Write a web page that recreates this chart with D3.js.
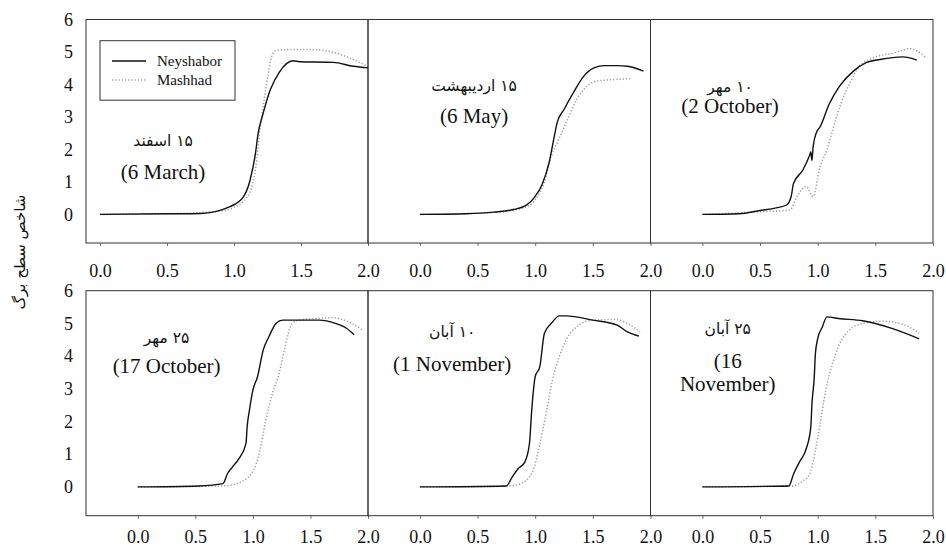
<!DOCTYPE html>
<html>
<head>
<meta charset="utf-8">
<script src="https://cdn.jsdelivr.net/npm/d3@7"></script>
<style>
  body { margin: 0; background: #fff; }
  text { font-family: "Liberation Serif", "Times New Roman", serif; fill: #111; }
  .fa { font-family: "DejaVu Sans", sans-serif; }
</style>
</head>
<body>
<div class="chart-1"></div>
<script>
// panel labels (Persian date + Gregorian date)
const faDates = ["۱۵ اسفند", "۱۵ اردیبهشت", "۱۰ مهر", "۲۵ مهر", "۱۰ آبان", "۲۵ آبان"];
const enDates = [["(6 March)"], ["(6 May)"], ["(2 October)"], ["(17 October)"], ["(1 November)"], ["(16", "November)"]];
const seriesNames = ["Neyshabor", "Mashhad"];
const xTicks = [0, 0.5, 1, 1.5, 2];
const yTicks = [0, 1, 2, 3, 4, 5, 6];
const yLabel = "شاخص سطح برگ";

// [x, leaf area index]
const neyMarch = [[0,0],[0.5,0.02],[0.75,0.03],[0.97,0.24],[1.07,0.54],[1.12,1.06],[1.16,1.88],[1.18,2.5],[1.21,3.0],[1.27,3.83],[1.34,4.39],[1.44,4.73],[1.49,4.7],[1.74,4.68],[1.89,4.56],[2.0,4.51]];
const mashMarch = [[0,0],[0.5,0.02],[0.9,0.1],[1.0,0.22],[1.09,0.5],[1.13,0.8],[1.17,1.7],[1.19,2.5],[1.22,3.4],[1.25,4.2],[1.28,4.85],[1.31,5.04],[1.45,5.08],[1.6,5.07],[1.75,4.98],[1.9,4.75],[2.0,4.55]];
const neyMay = [[0,0],[0.4,0.02],[0.64,0.07],[0.81,0.15],[0.93,0.3],[0.99,0.51],[1.06,0.92],[1.12,1.59],[1.16,2.3],[1.19,2.82],[1.25,3.23],[1.33,3.74],[1.42,4.25],[1.51,4.51],[1.6,4.58],[1.71,4.58],[1.8,4.56],[1.94,4.41]];
const mashMay = [[0,0],[0.6,0.05],[0.9,0.2],[1.0,0.45],[1.08,1.0],[1.14,1.8],[1.19,2.2],[1.28,2.92],[1.36,3.54],[1.45,3.95],[1.53,4.1],[1.68,4.15],[1.84,4.18]];
const neyOct2 = [[0,0],[0.32,0.02],[0.5,0.12],[0.64,0.2],[0.73,0.29],[0.77,0.55],[0.79,0.95],[0.87,1.36],[0.93,1.82],[0.94,1.92],[0.95,1.66],[0.96,2.07],[0.99,2.53],[1.02,2.69],[1.1,3.4],[1.19,3.95],[1.31,4.41],[1.42,4.67],[1.54,4.77],[1.74,4.85],[1.86,4.75]];
const mashOct2 = [[0,0],[0.5,0.08],[0.76,0.14],[0.82,0.55],[0.9,0.86],[0.96,0.55],[1.02,1.47],[1.08,1.98],[1.13,2.6],[1.2,3.4],[1.28,4.05],[1.36,4.56],[1.48,4.82],[1.66,4.97],[1.8,5.1],[1.94,4.82]];
const neyOct17 = [[0,0],[0.53,0.03],[0.74,0.1],[0.78,0.41],[0.82,0.6],[0.88,0.87],[0.94,1.33],[0.95,1.84],[0.97,2.35],[1.0,2.96],[1.04,3.37],[1.09,4.19],[1.14,4.6],[1.2,5.0],[1.26,5.1],[1.4,5.1],[1.58,5.1],[1.69,5.03],[1.81,4.86],[1.88,4.65]];
const mashOct17 = [[0,0],[0.74,0.03],[0.88,0.13],[1.0,0.48],[1.06,1.09],[1.11,2.0],[1.17,2.86],[1.23,3.5],[1.28,4.3],[1.34,5.0],[1.4,5.1],[1.69,5.17],[1.86,5.0],[1.95,4.8]];
const neyNov1 = [[0,0],[0.75,0.03],[0.8,0.3],[0.85,0.55],[0.91,0.76],[0.95,1.32],[0.97,2.35],[1.0,3.37],[1.04,3.68],[1.08,4.7],[1.14,5.0],[1.21,5.23],[1.27,5.23],[1.5,5.1],[1.71,4.95],[1.8,4.74],[1.9,4.61]];
const mashNov1 = [[0,0],[0.75,0.02],[0.86,0.08],[0.98,0.49],[1.04,1.32],[1.1,2.35],[1.15,3.27],[1.21,3.99],[1.27,4.5],[1.36,4.9],[1.5,5.1],[1.71,5.12],[1.8,5.0],[1.91,4.74]];
const neyNov16 = [[0,0],[0.75,0.03],[0.79,0.39],[0.84,0.75],[0.9,1.16],[0.94,1.82],[0.95,2.53],[0.97,3.35],[0.98,4.07],[1.0,4.53],[1.04,4.89],[1.08,5.2],[1.18,5.15],[1.39,5.08],[1.65,4.84],[1.88,4.53]];
const mashNov16 = [[0,0],[0.78,0.03],[0.87,0.18],[0.93,0.39],[0.98,1.11],[1.03,2.13],[1.07,2.96],[1.13,3.78],[1.18,4.3],[1.24,4.66],[1.36,4.97],[1.56,5.07],[1.74,4.97],[1.88,4.7]];

const neyshabor = [neyMarch, neyMay, neyOct2, neyOct17, neyNov1, neyNov16];
const mashhad = [mashMarch, mashMay, mashOct2, mashOct17, mashNov1, mashNov16];

const svg = d3.select(".chart-1")
  .append("svg")
  .attr("width", 946)
  .attr("height", 548);

// panel grid
const colEdges = [86, 368, 650.5, 933];
const rowEdges = [[19.5, 243], [290.7, 515.7]];
const tickPad = [18, 12]; // labels sit a bit closer under the bottom row
const yDomain = [-0.88, 6];

// where each annotation sits (in data units of its panel)
const notePos = [[0.47, 2.23, 1.09], [0.47, 3.95, 2.8], [0.24, 3.92, 3.12], [0.25, 4.55, 3.48], [0.28, 4.71, 3.55], [0.22, 4.8, 3.64]];

const fmt = d3.format(".1f");

for (let i = 0; i < 6; i++) {
  const row = Math.floor(i / 3), col = i % 3;
  const x0 = colEdges[col], x1 = colEdges[col + 1];
  const [top, bottom] = rowEdges[row];

  const xScale = d3.scaleLinear()
    .domain([i === 0 ? -0.105 : -0.45, 2.0])
    .range([x0, x1]);
  const yScale = d3.scaleLinear()
    .domain(yDomain)
    .range([bottom, top]);

  const g = svg.append("g");

  g.append("rect")
    .attr("x", x0).attr("y", top)
    .attr("width", x1 - x0).attr("height", bottom - top)
    .attr("fill", "none")
    .attr("stroke", "#333")
    .attr("stroke-width", 1);

  // x axis
  const xAxis = g.append("g")
    .attr("transform", `translate(0,${bottom})`)
    .call(d3.axisBottom(xScale).tickValues(xTicks).tickFormat(fmt).tickSizeOuter(0).tickSize(3).tickPadding(tickPad[row]));
  xAxis.select(".domain").remove();
  xAxis.selectAll("line").attr("stroke", "#666");
  xAxis.selectAll("text")
    .style("font-family", "'Liberation Serif', serif")
    .style("font-size", "18px")
    .style("fill", "#111");

  // y axis on the first panel of each row
  if (col === 0) {
    const yAxis = g.append("g")
      .attr("transform", `translate(${x0},0)`)
      .call(d3.axisLeft(yScale).tickValues(yTicks).tickFormat(d3.format("d")).tickSize(0).tickPadding(13));
    yAxis.select(".domain").remove();
    yAxis.selectAll("text")
      .style("font-family", "'Liberation Serif', serif")
      .style("font-size", "18px")
      .style("fill", "#111");
  }

  const line = d3.line()
    .x(d => xScale(d[0]))
    .y(d => yScale(d[1]))
    .curve(d3.curveMonotoneX);

  g.append("path")
    .datum(mashhad[i])
    .attr("d", line)
    .attr("fill", "none")
    .attr("stroke", "#9a9a9a")
    .attr("stroke-width", 1.5)
    .attr("stroke-dasharray", "1.2,2");

  g.append("path")
    .datum(neyshabor[i])
    .attr("d", line)
    .attr("fill", "none")
    .attr("stroke", "#111")
    .attr("stroke-width", 1.4);

  // annotations
  const [nx, nyFa, nyEn] = notePos[i];
  g.append("text")
    .attr("class", "fa")
    .attr("x", xScale(nx))
    .attr("y", yScale(nyFa))
    .attr("direction", "rtl")
    .attr("text-anchor", "middle")
    .attr("dominant-baseline", "middle")
    .style("font-size", "15.5px")
    .text(faDates[i]);

  enDates[i].forEach((t, k) => {
    g.append("text")
      .attr("x", xScale(nx))
      .attr("y", yScale(nyEn) + k * 23)
      .attr("text-anchor", "middle")
      .style("font-size", "21px")
      .text(t);
  });
}

// legend in first panel
const legend = svg.append("g");
legend.append("rect")
  .attr("x", 100).attr("y", 40.7)
  .attr("width", 135).attr("height", 59.5)
  .attr("fill", "#fff")
  .attr("stroke", "#333");
seriesNames.forEach((name, k) => {
  const ly = 61 + k * 19;
  legend.append("line")
    .attr("x1", 112).attr("x2", 146)
    .attr("y1", ly).attr("y2", ly)
    .attr("stroke", k === 0 ? "#111" : "#9a9a9a")
    .attr("stroke-width", k === 0 ? 1.4 : 1.5)
    .attr("stroke-dasharray", k === 0 ? null : "1.2,2");
  legend.append("text")
    .attr("x", 157).attr("y", ly + 5)
    .style("font-size", "15px")
    .text(name);
});

// y axis title
svg.append("text")
  .attr("class", "fa")
  .attr("transform", "translate(20,252) rotate(-90)")
  .attr("text-anchor", "middle")
  .attr("dominant-baseline", "middle")
  .style("font-size", "15px")
  .text(yLabel);
</script>
</body>
</html>
